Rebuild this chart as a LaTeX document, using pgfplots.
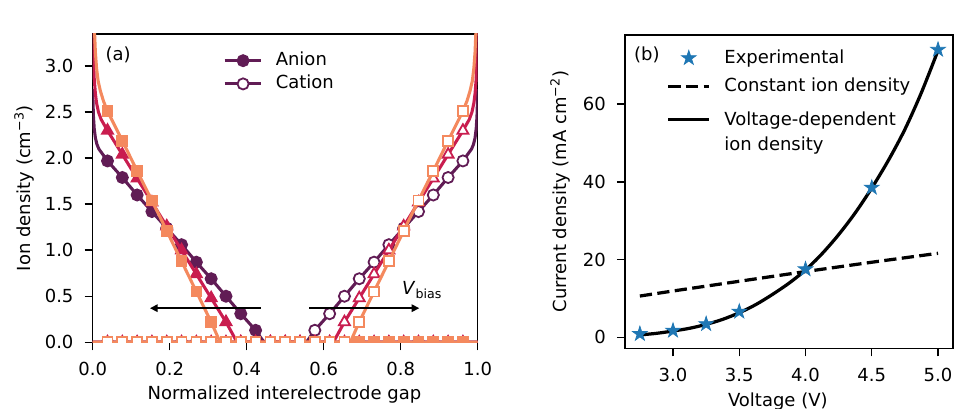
\documentclass[border=0pt]{standalone}
\usepackage{fontspec}
\setmainfont{DejaVu Sans}
\usepackage{pgfplots}
\pgfplotsset{compat=1.18}
\usetikzlibrary{arrows.meta}
\definecolor{cpur}{HTML}{611C55}
\definecolor{ccri}{HTML}{C91D4F}
\definecolor{cora}{HTML}{F4895E}
\definecolor{cblue}{HTML}{1F77B4}
\pgfdeclareplotmark{fstar}{%
  \pgfpathmoveto{\pgfpointpolar{90}{\pgfplotmarksize}}%
  \pgfpathlineto{\pgfpointpolar{126}{0.382\pgfplotmarksize}}%
  \pgfpathlineto{\pgfpointpolar{162}{\pgfplotmarksize}}%
  \pgfpathlineto{\pgfpointpolar{198}{0.382\pgfplotmarksize}}%
  \pgfpathlineto{\pgfpointpolar{234}{\pgfplotmarksize}}%
  \pgfpathlineto{\pgfpointpolar{270}{0.382\pgfplotmarksize}}%
  \pgfpathlineto{\pgfpointpolar{306}{\pgfplotmarksize}}%
  \pgfpathlineto{\pgfpointpolar{342}{0.382\pgfplotmarksize}}%
  \pgfpathlineto{\pgfpointpolar{18}{\pgfplotmarksize}}%
  \pgfpathlineto{\pgfpointpolar{54}{0.382\pgfplotmarksize}}%
  \pgfpathclose
  \pgfusepathqfillstroke}
\pgfplotsset{
  mystyle/.style={
    scale only axis,
    axis line style={line width=0.8pt},
    tick align=outside,
    major tick length=4.5pt,
    every tick/.style={line width=0.8pt, black},
    xtick pos=bottom, ytick pos=left,
    /pgf/number format/assume math mode=true,
    xticklabel style={anchor=north, inner sep=0pt, yshift=-6.5pt},
    yticklabel style={anchor=east, inner sep=0pt, xshift=-6pt},
    clip marker paths=true,
  },
  anion/.style={forget plot, line width=1.7pt},
  lmk/.style={forget plot, only marks},
  legA/.style={legend image code/.code={\draw[mark repeat=2, mark phase=2, ##1] plot coordinates {(0pt,0pt) (10.2pt,0pt) (20.4pt,0pt)};}},
  legStar/.style={legend image code/.code={\draw[mark repeat=2, mark phase=2, ##1] plot coordinates {(0pt,0pt) (11.4pt,0pt) (22.8pt,0pt)};}},
  legDash/.style={legend image code/.code={\draw[##1] (0pt,0pt) -- (22.8pt,0pt);}},
  legSolid/.style={legend image code/.code={\draw[##1] (0pt,6.95pt) -- (22.8pt,6.95pt);}},
}
\begin{document}
\begin{tikzpicture}
\useasboundingbox (0,0) rectangle (531.1pt,227.2pt);
% ---------------- panel (a)
\begin{axis}[mystyle,
  at={(51.5pt,37.06pt)}, anchor=south west,
  width=213.9pt, height=171.3pt,
  xmin=0, xmax=1, ymin=0, ymax=3.35,
  xtick={0,0.2,0.4,0.6,0.8,1.0},
  xticklabels={0.0,0.2,0.4,0.6,0.8,1.0},
  ytick={0,0.5,1,1.5,2,2.5,3},
  yticklabels={0.0,0.5,1.0,1.5,2.0,2.5,3.0},
  xlabel={Normalized interelectrode gap},
  ylabel={Ion density (cm\textsuperscript{−3})},
  every axis x label/.style={at={(axis description cs:0.498,-0.187)}, anchor=base},
  every axis y label/.style={at={(axis description cs:-0.178,0.5)}, rotate=90, anchor=center},
  legend style={draw=none, fill=none, at={(0.338,0.952)}, anchor=north west,
    inner sep=0pt, row sep=0pt,
    nodes={inner sep=1.6pt, text height=7.3pt, text depth=2.4pt},
    /tikz/every odd column/.append style={column sep=5.5pt}},
  legend cell align=left,
]
% purple anion
\addplot[anion, cpur] coordinates {(0,2.75) (0.001,2.58) (0.002,2.45) (0.004,2.32) (0.007,2.22) (0.011,2.15) (0.016,2.10) (0.03846,1.97) (0.07692,1.79) (0.11538,1.60) (0.15385,1.42) (0.19231,1.24) (0.23077,1.06) (0.26923,0.87) (0.30769,0.69) (0.34615,0.50) (0.38462,0.31) (0.42308,0.13) (0.445,0) (1,0)};
\addplot[lmk, cpur, mark=*, mark size=3.1pt, mark options={fill=cpur, line width=1pt}] coordinates {(0.03846,1.97) (0.07692,1.79) (0.11538,1.60) (0.15385,1.42) (0.19231,1.24) (0.23077,1.06) (0.26923,0.87) (0.30769,0.69) (0.34615,0.50) (0.38462,0.31) (0.42308,0.13) (0.46154,0) (0.5,0) (0.53846,0) (0.57692,0) (0.61538,0) (0.65385,0) (0.69231,0) (0.73077,0) (0.76923,0) (0.80769,0) (0.84615,0) (0.88462,0) (0.92308,0) (0.96154,0)};
% purple cation
\addplot[anion, cpur] coordinates {(0,0) (0.555,0) (0.57692,0.13) (0.61538,0.31) (0.65385,0.50) (0.69231,0.69) (0.73077,0.87) (0.76923,1.06) (0.80769,1.24) (0.84615,1.42) (0.88462,1.60) (0.92308,1.79) (0.96154,1.97) (0.984,2.10) (0.989,2.15) (0.993,2.22) (0.996,2.32) (0.998,2.45) (0.999,2.58) (1,2.75)};
\addplot[lmk, cpur, mark=*, mark size=3.1pt, mark options={fill=white, line width=1pt}] coordinates {(0.03846,0) (0.07692,0) (0.11538,0) (0.15385,0) (0.19231,0) (0.23077,0) (0.26923,0) (0.30769,0) (0.34615,0) (0.38462,0) (0.42308,0) (0.46154,0) (0.5,0) (0.53846,0) (0.57692,0.13) (0.61538,0.31) (0.65385,0.50) (0.69231,0.69) (0.73077,0.87) (0.76923,1.06) (0.80769,1.24) (0.84615,1.42) (0.88462,1.60) (0.92308,1.79) (0.96154,1.97)};
% crimson anion
\addplot[anion, ccri] coordinates {(0,3.5) (0.002,3.1) (0.004,2.86) (0.007,2.70) (0.01,2.60) (0.015,2.50) (0.022,2.42) (0.03846,2.30) (0.07692,2.04) (0.11538,1.78) (0.15385,1.52) (0.19231,1.26) (0.23077,1.00) (0.26923,0.74) (0.30769,0.48) (0.34615,0.22) (0.375,0) (1,0)};
\addplot[lmk, ccri, mark=triangle*, mark size=3.5pt, mark options={fill=ccri, line width=1pt}] coordinates {(0.03846,2.30) (0.07692,2.04) (0.11538,1.78) (0.15385,1.52) (0.19231,1.26) (0.23077,1.00) (0.26923,0.74) (0.30769,0.48) (0.34615,0.22) (0.38462,0) (0.42308,0) (0.46154,0) (0.5,0) (0.53846,0) (0.57692,0) (0.61538,0) (0.65385,0) (0.69231,0) (0.73077,0) (0.76923,0) (0.80769,0) (0.84615,0) (0.88462,0) (0.92308,0) (0.96154,0)};
% crimson cation
\addplot[anion, ccri] coordinates {(0,0) (0.625,0) (0.65385,0.22) (0.69231,0.48) (0.73077,0.74) (0.76923,1.00) (0.80769,1.26) (0.84615,1.52) (0.88462,1.78) (0.92308,2.04) (0.96154,2.30) (0.978,2.42) (0.985,2.50) (0.99,2.60) (0.993,2.70) (0.996,2.86) (0.998,3.1) (1,3.5)};
\addplot[lmk, ccri, mark=triangle*, mark size=3.5pt, mark options={fill=white, line width=1pt}] coordinates {(0.03846,0) (0.07692,0) (0.11538,0) (0.15385,0) (0.19231,0) (0.23077,0) (0.26923,0) (0.30769,0) (0.34615,0) (0.38462,0) (0.42308,0) (0.46154,0) (0.5,0) (0.53846,0) (0.57692,0) (0.61538,0) (0.65385,0.22) (0.69231,0.48) (0.73077,0.74) (0.76923,1.00) (0.80769,1.26) (0.84615,1.52) (0.88462,1.78) (0.92308,2.04) (0.96154,2.30)};
% orange anion
\addplot[anion, cora] coordinates {(0,4.3) (0.002,3.8) (0.004,3.45) (0.007,3.15) (0.01,2.98) (0.014,2.84) (0.02,2.73) (0.028,2.62) (0.03846,2.51) (0.07692,2.19) (0.11538,1.86) (0.15385,1.54) (0.19231,1.21) (0.23077,0.88) (0.26923,0.55) (0.30769,0.22) (0.331,0) (1,0)};
\addplot[lmk, cora, mark=square*, mark size=2.75pt, mark options={fill=cora, line width=1pt}] coordinates {(0.03846,2.51) (0.07692,2.19) (0.11538,1.86) (0.15385,1.54) (0.19231,1.21) (0.23077,0.88) (0.26923,0.55) (0.30769,0.22) (0.34615,0) (0.38462,0) (0.42308,0) (0.46154,0) (0.5,0) (0.53846,0) (0.57692,0) (0.61538,0) (0.65385,0) (0.69231,0) (0.73077,0) (0.76923,0) (0.80769,0) (0.84615,0) (0.88462,0) (0.92308,0) (0.96154,0)};
% orange cation
\addplot[anion, cora] coordinates {(0,0) (0.669,0) (0.69231,0.22) (0.73077,0.55) (0.76923,0.88) (0.80769,1.21) (0.84615,1.54) (0.88462,1.86) (0.92308,2.19) (0.96154,2.51) (0.972,2.62) (0.98,2.73) (0.986,2.84) (0.99,2.98) (0.993,3.15) (0.996,3.45) (0.998,3.8) (1,4.3)};
\addplot[lmk, cora, mark=square*, mark size=2.75pt, mark options={fill=white, line width=1pt}] coordinates {(0.03846,0) (0.07692,0) (0.11538,0) (0.15385,0) (0.19231,0) (0.23077,0) (0.26923,0) (0.30769,0) (0.34615,0) (0.38462,0) (0.42308,0) (0.46154,0) (0.5,0) (0.53846,0) (0.57692,0) (0.61538,0) (0.65385,0) (0.69231,0.22) (0.73077,0.55) (0.76923,0.88) (0.80769,1.21) (0.84615,1.54) (0.88462,1.86) (0.92308,2.19) (0.96154,2.51)};
% legend
\addlegendimage{cpur, line width=1.7pt, mark=*, mark size=3.1pt, mark options={fill=cpur, line width=1pt}, legA}
\addlegendentry{Anion}
\addlegendimage{cpur, line width=1.7pt, mark=*, mark size=3.1pt, mark options={fill=white, line width=1pt}, legA}
\addlegendentry{Cation}
% annotations
\draw[line width=0.8pt, -{Triangle[length=4.2pt, width=4.2pt]}] (axis cs:0.437,0.37) -- (axis cs:0.149,0.37);
\draw[line width=0.8pt, -{Triangle[length=4.2pt, width=4.2pt]}] (axis cs:0.563,0.37) -- (axis cs:0.848,0.37);
\node[anchor=base west, inner sep=0pt] at (axis cs:0.803,0.514) {\textit{V}\textsubscript{bias}};
\node[anchor=center, inner sep=0pt] at (axis cs:0.066,3.12) {(a)};
\node[anchor=base west, inner sep=0pt] at ([yshift=3.3pt]rel axis cs:0,1) {1e19};
\end{axis}
% ---------------- panel (b)
\begin{axis}[mystyle,
  at={(347.2pt,33.7pt)}, anchor=south west,
  width=182.2pt, height=174.1pt,
  xmin=2.6375, xmax=5.1125, ymin=-2.85, ymax=77.8,
  xtick={3,3.5,4,4.5,5},
  xticklabels={3.0,3.5,4.0,4.5,5.0},
  ytick={0,20,40,60},
  xlabel={Voltage (V)},
  ylabel={Current density (mA cm\textsuperscript{−2})},
  every axis x label/.style={at={(axis description cs:0.466,-0.185)}, anchor=base},
  every axis y label/.style={at={(axis description cs:-0.198,0.5)}, rotate=90, anchor=center},
  legend style={draw=none, fill=none, at={(0.126,0.965)}, anchor=north west,
    inner sep=0pt, row sep=2.6pt,
    /tikz/every odd column/.append style={column sep=5.5pt}},
  legend cell align=left,
]
\addplot[forget plot, black, line width=1.8pt, dash pattern=on 6.8pt off 3pt] coordinates {(2.75,10.6) (3.0,11.9) (3.5,14.4) (4.0,16.9) (4.5,19.3) (5.0,21.6)};
\addplot[forget plot, black, line width=1.8pt, smooth] coordinates {(2.75,0.6) (2.875,1.0) (3.0,1.6) (3.125,2.3) (3.25,3.3) (3.375,4.6) (3.5,6.3) (3.625,8.4) (3.75,11.0) (3.875,13.9) (4.0,17.3) (4.125,21.5) (4.25,26.4) (4.375,32.0) (4.5,38.4) (4.625,45.5) (4.75,53.5) (4.875,63.0) (5.0,73.8)};
\addplot[forget plot, only marks, mark=fstar, mark size=4.3pt, cblue, mark options={fill=cblue, draw=cblue, line width=0.4pt}] coordinates {(2.75,0.85) (3.0,1.7) (3.25,3.4) (3.5,6.6) (4.0,17.5) (4.5,38.5) (5.0,74.0)};
\addlegendimage{only marks, mark=fstar, mark size=4.3pt, cblue, mark options={fill=cblue, draw=cblue, line width=0.4pt}, legStar}
\addlegendentry{Experimental}
\addlegendimage{black, line width=1.8pt, dash pattern=on 6.8pt off 3pt, legDash}
\addlegendentry{Constant ion density}
\addlegendimage{black, line width=1.8pt, legSolid}
\addlegendentry[align=left, inner ysep=4.8pt, font=\fontsize{10}{13.9}\selectfont]{Voltage-dependent\\ion density}
\node[anchor=center, inner sep=0pt] at (axis cs:2.803,72.7) {(b)};
\end{axis}
\end{tikzpicture}
\end{document}
